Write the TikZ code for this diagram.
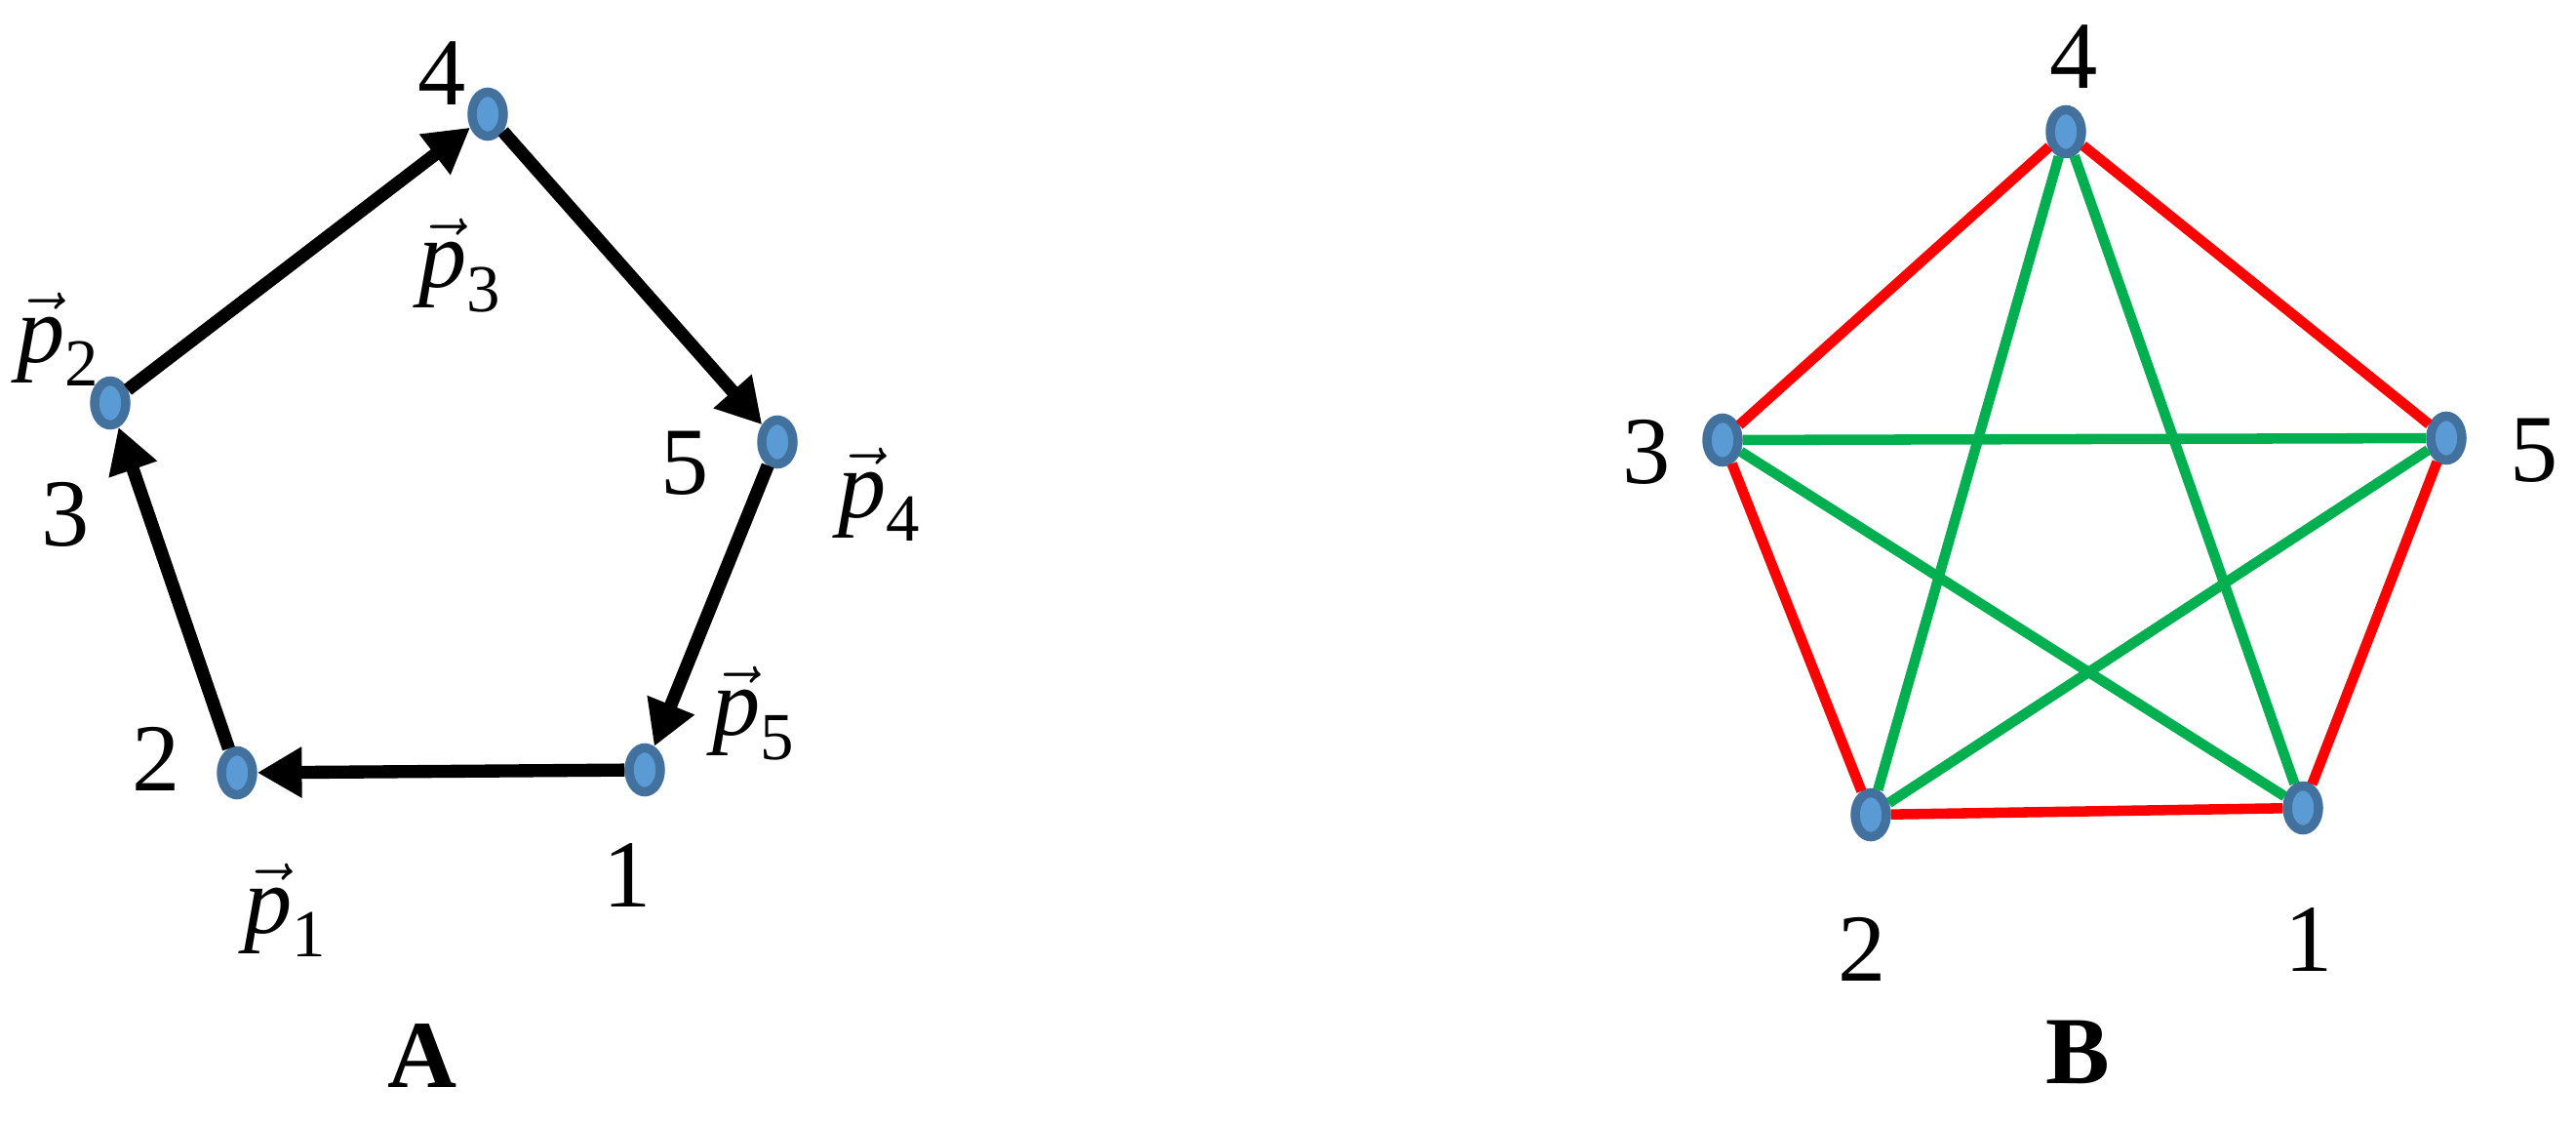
\documentclass[tikz,border=0pt]{standalone}
\usepackage{amsmath}
\usepackage{fontspec}
\setmainfont{Liberation Serif}
\usepackage{tikz}
\usepackage{xcolor}
\usetikzlibrary{arrows.meta,shapes.geometric}

\definecolor{ptfill}{HTML}{5B9BD5}
\definecolor{ptline}{HTML}{41719C}
\definecolor{edgered}{HTML}{FF0000}
\definecolor{edgegreen}{HTML}{00B050}

\newcommand{\pv}[1]{$\vec{\textit{p}}_{\textrm{#1}}$}

\begin{document}
\begin{tikzpicture}[thick,
    pt/.style = {draw=ptline, fill=ptfill, ellipse, line width=2.7pt, minimum width=3.2mm, minimum height=4.5mm, inner sep=0pt},
    lbl/.style = {font=\fontsize{28}{34}\selectfont, inner sep=0pt},
    move/.style = {line width=3.8pt, -{Triangle[length=13pt,width=14pt]}},
    ring/.style = {edgered, line width=3pt},
    chord/.style = {edgegreen, line width=3pt}]
          \useasboundingbox (0,0) rectangle (26.41,11.54);

          % A: the walk
          \node[pt] (a_1) at (6.61,3.65) {};
          \node[pt] (a_2) at (2.43,3.62) {};
          \node[pt] (a_3) at (1.13,7.41) {};
          \node[pt] (a_4) at (5.00,10.37) {};
          \node[pt] (a_5) at (7.97,7.01) {};

          \draw[move] (a_1) -- (a_2);
          \draw[move] (a_2) -- (a_3);
          \draw[move] (a_3) -- (a_4);
          \draw[move] (a_4) -- (a_5);
          \draw[move] (a_5) -- (a_1);

          \node[lbl] (a_1n) at (6.43,2.57) {1};
          \node[lbl] (a_2n) at (1.60,3.76) {2};
          \node[lbl] (a_3n) at (0.67,6.27) {3};
          \node[lbl] (a_4n) at (4.53,10.79) {4};
          \node[lbl] (a_5n) at (7.02,6.79) {5};
          \node[lbl] (p_1) at (2.93,2.21) {\pv{1}};
          \node[lbl] (p_2) at (0.60,8.06) {\pv{2}};
          \node[lbl] (p_3) at (4.72,8.82) {\pv{3}};
          \node[lbl] (p_4) at (9.02,6.47) {\pv{4}};
          \node[lbl] (p_5) at (7.73,4.23) {\pv{5}};
          \node[lbl] (cap_a) at (4.33,0.72) {\textbf{A}};

          % B: the complete graph
          \node[pt] (b_1) at (23.61,3.26) {};
          \node[pt] (b_2) at (19.18,3.19) {};
          \node[pt] (b_3) at (17.66,7.03) {};
          \node[pt] (b_4) at (21.18,10.19) {};
          \node[pt] (b_5) at (25.08,7.05) {};

          \draw[ring] (b_1) -- (b_2);
          \draw[ring] (b_2) -- (b_3);
          \draw[ring] (b_3) -- (b_4);
          \draw[ring] (b_4) -- (b_5);
          \draw[ring] (b_5) -- (b_1);
          \draw[chord] (b_1) -- (b_3);
          \draw[chord] (b_1) -- (b_4);
          \draw[chord] (b_2) -- (b_4);
          \draw[chord] (b_2) -- (b_5);
          \draw[chord] (b_3) -- (b_5);

          \node[lbl] (b_1n) at (23.67,1.91) {1};
          \node[lbl] (b_2n) at (19.09,1.81) {2};
          \node[lbl] (b_3n) at (16.88,6.91) {3};
          \node[lbl] (b_4n) at (21.26,10.96) {4};
          \node[lbl] (b_5n) at (25.98,6.92) {5};
          \node[lbl] (cap_b) at (21.30,0.76) {\textbf{B}};
        \end{tikzpicture}
\end{document}
